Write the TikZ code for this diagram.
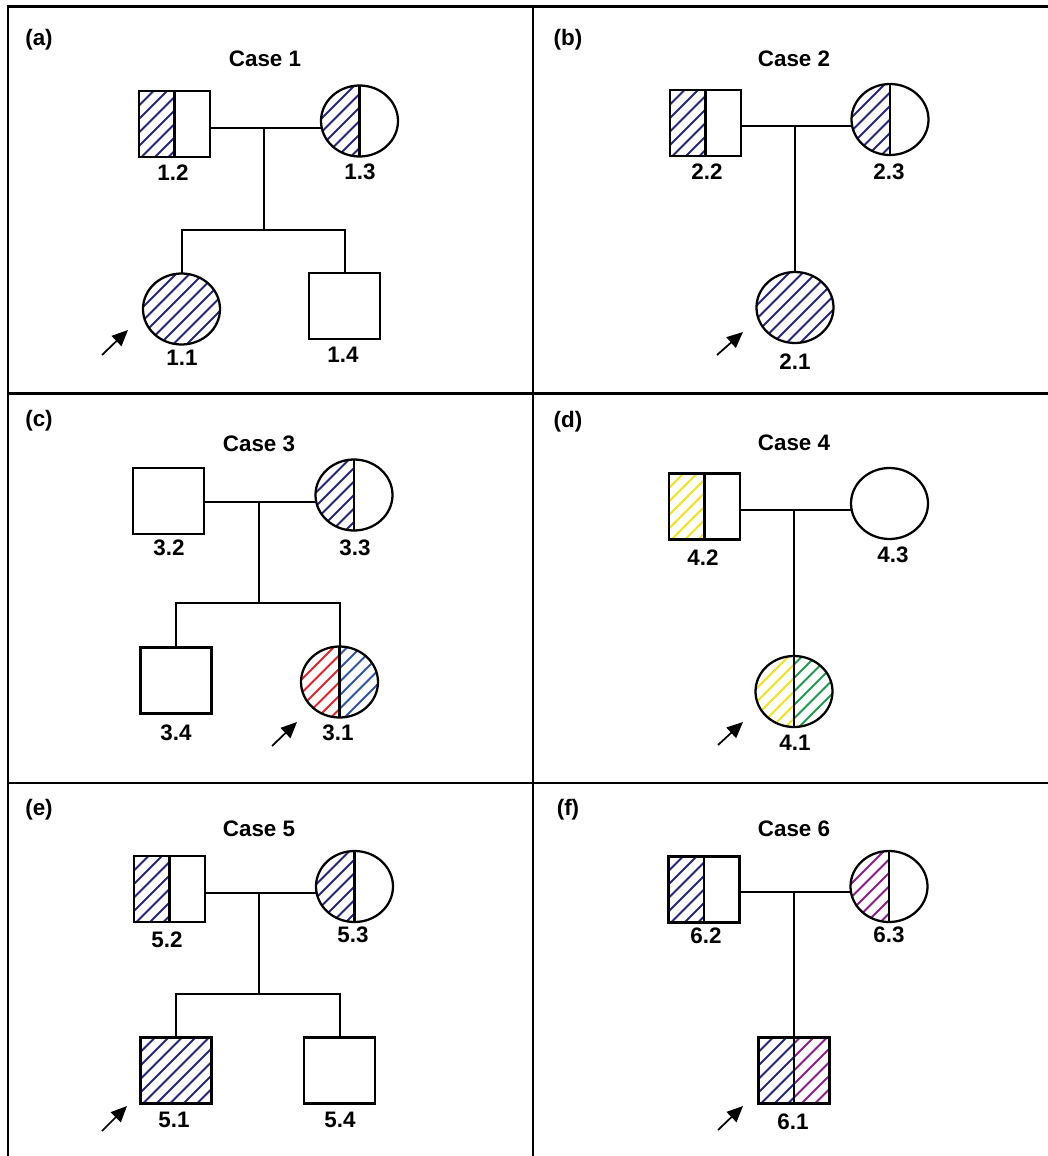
\documentclass[tikz,border=0pt]{standalone}
\usepackage{fontspec}
\setmainfont{Liberation Sans}
\usetikzlibrary{shapes.geometric,arrows.meta,calc}
\definecolor{navy}{HTML}{26267F}
\definecolor{bblue}{HTML}{2F55A8}
\definecolor{hred}{HTML}{E8222B}
\definecolor{hyellow}{HTML}{F2E21A}
\definecolor{hgreen}{HTML}{1F9A4E}
\definecolor{hpurple}{HTML}{8E1D8C}
\newcommand{\hatchlines}[1]{%
  \foreach \i in {-9,...,9}{%
    \draw[#1,line width=1.5pt] ($(path picture bounding box.center)+(\i*13.5-60,60)$) -- ++(120,-120);
  }}
\newcommand{\lefthalf}[1]{%
  \begin{scope}
    \clip (path picture bounding box.south west) rectangle (path picture bounding box.north);
    \hatchlines{#1}
  \end{scope}}
\newcommand{\righthalf}[1]{%
  \begin{scope}
    \clip (path picture bounding box.south) rectangle (path picture bounding box.north east);
    \hatchlines{#1}
  \end{scope}}
\newcommand{\splitline}{%
  \draw[line width=1.6pt] (path picture bounding box.north) -- (path picture bounding box.south);}
\tikzset{
  sq/.style={rectangle,draw,line width=1.7pt,minimum width=53.25pt,minimum height=49.5pt,inner sep=0pt,outer sep=0pt},
  ci/.style={ellipse,draw,line width=1.7pt,minimum width=57.75pt,minimum height=53.25pt,inner sep=0pt,outer sep=0pt},
  halfl/.style={path picture={\lefthalf{#1}\splitline}},
  halftwo/.style 2 args={path picture={\lefthalf{#1}\righthalf{#2}\splitline}},
  full/.style={path picture={\hatchlines{#1}}},
  lbl/.style={font=\bfseries\fontsize{16.8}{18}\selectfont,inner sep=0pt},
  link/.style={line width=1.5pt},
  grid/.style={line width=2.2pt},
  proband/.style={line width=1.3pt,-{Triangle[length=12pt,width=10.5pt]}}
}
\begin{document}
\begin{tikzpicture}[x=0.75pt,y=-0.75pt]
\useasboundingbox (0,0) rectangle (1048,1156);
% frame
\coordinate (tl) at (8,6.5);
\coordinate (tr) at (1048,6.5);
\coordinate (bl) at (8,1156);
\coordinate (vt) at (533,6.5);
\coordinate (vb) at (533,1156);
\coordinate (h1l) at (8,393.5);
\coordinate (h1r) at (1048,393.5);
\coordinate (h2l) at (8,783);
\coordinate (h2r) at (1048,783);
\draw[grid] (bl) -- (tl) -- (tr);
\draw[grid] (vt) -- (vb);
\draw[grid] (h1l) -- (h1r);
\draw[grid] (h2l) -- (h2r);

% ---------- (a)
\node[lbl] (pa) at (39,40) {(a)};
\node[lbl] (ca) at (265,59) {Case 1};
\node[sq,halfl=navy] (n12) at (174.5,124) {};
\node[ci,halfl=navy] (n13) at (359.5,121) {};
\node[ci,full=navy] (n11) at (181.5,309) {};
\node[sq] (n14) at (344.5,306) {};
\node[lbl] (l12) at (173,173) {1.2};
\node[lbl] (l13) at (360,172) {1.3};
\node[lbl] (l11) at (182,358) {1.1};
\node[lbl] (l14) at (343,355) {1.4};
\coordinate (ma) at (264,128);
\coordinate (sa) at (264,230);
\draw[link] (n12.east |- ma) -- (n13.west |- ma);
\draw[link] (ma) -- (sa);
\draw[link] (n11.north) -- (n11.north |- sa) -- (n14.north |- sa) -- (n14.north);
\coordinate (ata) at (102,355);
\coordinate (aha) at (128,330);
\draw[proband] (ata) -- (aha);

% ---------- (b)
\node[lbl] (pb) at (568,40) {(b)};
\node[lbl] (cb) at (794,59) {Case 2};
\node[sq,halfl=navy] (n22) at (705.5,123) {};
\node[ci,halfl=navy] (n23) at (890,119.5) {};
\node[ci,full=navy] (n21) at (795,307.5) {};
\node[lbl] (l22) at (707,172) {2.2};
\node[lbl] (l23) at (889,172) {2.3};
\node[lbl] (l21) at (795,362) {2.1};
\coordinate (mb) at (795,126);
\draw[link] (n22.east |- mb) -- (n23.west |- mb);
\draw[link] (mb) -- (mb |- n21.north);
\coordinate (atb) at (717,355);
\coordinate (ahb) at (743,332);
\draw[proband] (atb) -- (ahb);

% ---------- (c)
\node[lbl] (pc) at (39,421) {(c)};
\node[lbl] (cc) at (259,444) {Case 3};
\node[sq] (n32) at (168.5,501) {};
\node[ci,halfl=navy] (n33) at (354,495) {};
\node[sq] (n34) at (176,680.5) {};
\node[ci,halftwo={hred}{bblue}] (n31) at (339.5,682) {};
\node[lbl] (l32) at (169,548) {3.2};
\node[lbl] (l33) at (355,548) {3.3};
\node[lbl] (l34) at (176,733) {3.4};
\node[lbl] (l31) at (338,733) {3.1};
\coordinate (mc) at (259,502);
\coordinate (sc) at (259,603);
\draw[link] (n32.east |- mc) -- (n33.west |- mc);
\draw[link] (mc) -- (sc);
\draw[link] (n34.north) -- (n34.north |- sc) -- (n31.north |- sc) -- (n31.north);
\coordinate (atc) at (272,746);
\coordinate (ahc) at (297,722);
\draw[proband] (atc) -- (ahc);

% ---------- (d)
\node[lbl] (pd) at (568,422) {(d)};
\node[lbl] (cd) at (794,443) {Case 4};
\node[sq,halfl=hyellow] (n42) at (704.5,506.5) {};
\node[ci] (n43) at (889.5,503.5) {};
\node[ci,halftwo={hyellow}{hgreen}] (n41) at (794,691.5) {};
\node[lbl] (l42) at (703,558) {4.2};
\node[lbl] (l43) at (893,555) {4.3};
\node[lbl] (l41) at (795,743) {4.1};
\coordinate (md) at (794,510);
\draw[link] (n42.east |- md) -- (n43.west |- md);
\draw[link] (md) -- (md |- n41.north);
\coordinate (atd) at (718,745);
\coordinate (ahd) at (743,722);
\draw[proband] (atd) -- (ahd);

% ---------- (e)
\node[lbl] (pe) at (39,810) {(e)};
\node[lbl] (ce) at (259,829) {Case 5};
\node[sq,halfl=navy] (n52) at (169.5,889) {};
\node[ci,halfl=navy] (n53) at (354.5,886.5) {};
\node[sq,full=navy] (n51) at (176,1070.5) {};
\node[sq] (n54) at (339.5,1070.5) {};
\node[lbl] (l52) at (167,940) {5.2};
\node[lbl] (l53) at (353,935) {5.3};
\node[lbl] (l51) at (174,1120) {5.1};
\node[lbl] (l54) at (340,1120) {5.4};
\coordinate (me) at (259,893);
\coordinate (se) at (259,994);
\draw[link] (n52.east |- me) -- (n53.west |- me);
\draw[link] (me) -- (se);
\draw[link] (n51.north) -- (n51.north |- se) -- (n54.north |- se) -- (n54.north);
\coordinate (ate) at (102,1131);
\coordinate (ahe) at (127,1106);
\draw[proband] (ate) -- (ahe);

% ---------- (f)
\node[lbl] (pf) at (568,810) {(f)};
\node[lbl] (cf) at (794,829) {Case 6};
\node[sq,halfl=navy] (n62) at (704,889.5) {};
\node[ci,halfl=hpurple] (n63) at (889,886.5) {};
\node[sq,halftwo={navy}{hpurple}] (n61) at (794,1070.5) {};
\node[lbl] (l62) at (706,936) {6.2};
\node[lbl] (l63) at (889,935) {6.3};
\node[lbl] (l61) at (793,1122) {6.1};
\coordinate (mf) at (794,892);
\draw[link] (n62.east |- mf) -- (n63.west |- mf);
\draw[link] (mf) -- (mf |- n61.north);
\coordinate (atf) at (718,1130);
\coordinate (ahf) at (743,1106);
\draw[proband] (atf) -- (ahf);
\end{tikzpicture}
\end{document}
